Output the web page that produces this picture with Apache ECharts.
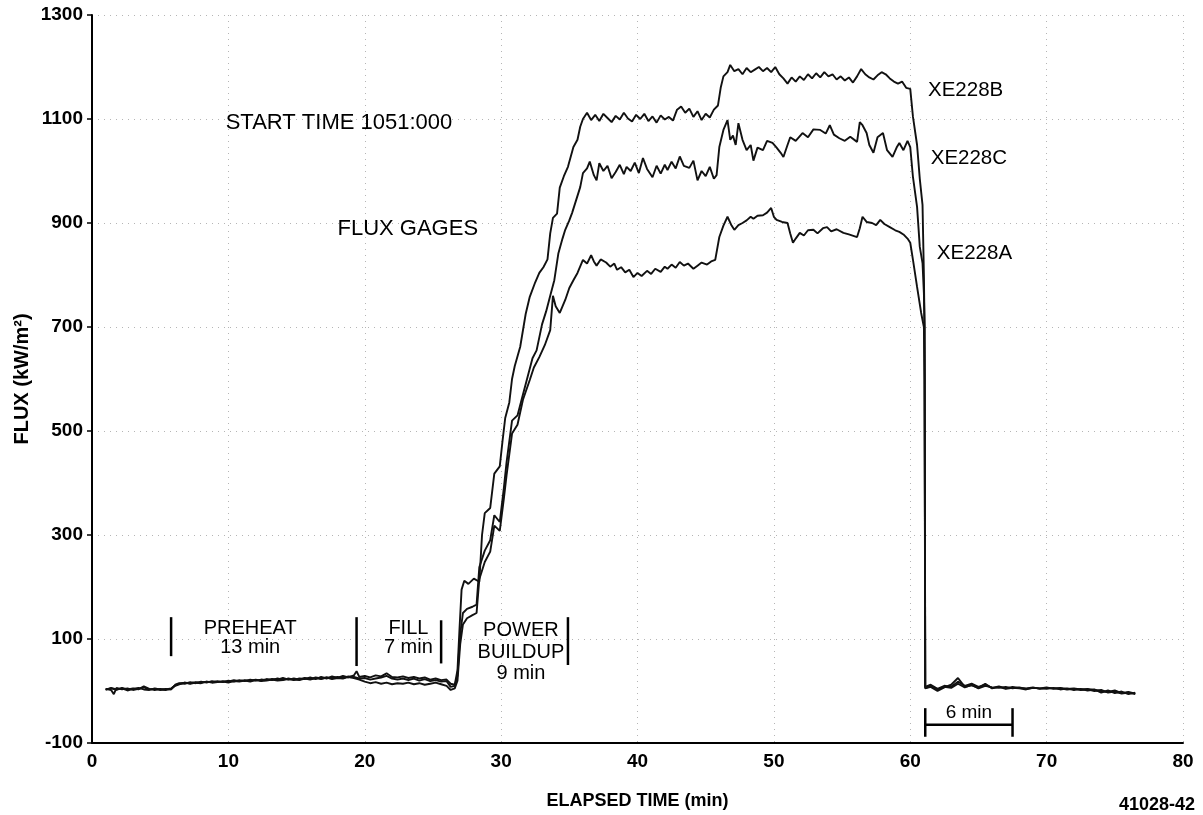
<!DOCTYPE html>
<html><head><meta charset="utf-8">
<script src="https://cdn.jsdelivr.net/npm/echarts@6/dist/echarts.min.js"></script>
<style>html,body{margin:0;padding:0;background:#fff}#c{width:1203px;height:815px}</style>
</head><body><div id="c"></div>
<script>
// ---- data (elapsed time in min, flux in kW/m2) ----
const xTickValues = [0, 10, 20, 30, 40, 50, 60, 70, 80];
const yTickValues = [-100, 100, 300, 500, 700, 900, 1100, 1300];
const seriesNames = ['XE228B', 'XE228C', 'XE228A'];

const XE228B = [
[1,4],[1.4,2],[1.6,-6],[1.8,6],[2.2,3],[2.6,5],[3,2],[3.4,4],[3.8,7],[4.2,3],[4.6,4],[5,2],[5.4,4],[5.8,3],
[6.1,12],[6.4,15],[6.8,14],[7.2,17],[7.6,15],[8,18],[8.4,16],[8.8,19],[9.2,17],[9.6,19],[10,18],[10.4,21],[10.8,19],
[11.2,21],[11.6,20],[12,22],[12.4,20],[12.8,23],[13.2,21],[13.6,24],[14,22],[14.4,23],[14.8,21],[15.2,24],[15.6,23],
[16,26],[16.4,23],[16.8,27],[17.2,24],[17.6,28],[18,25],[18.4,29],[18.8,26],[19.2,30],[19.4,38],[19.6,27],[20,29],
[20.4,26],[20.8,30],[21.2,28],[21.6,34],[22,27],[22.4,26],[22.8,28],[23.2,25],[23.6,27],[24,24],[24.4,26],[24.8,22],
[25.2,24],[25.6,21],[26,22],[26.3,14],[26.6,12],[26.8,40],[26.95,120],[27.1,195],[27.3,212],[27.6,206],[28.0,216],
[28.4,210],[28.6,300],[28.8,342],[29.2,352],[29.5,418],[29.9,432],[30.1,480],[30.3,525],[30.6,555],[30.8,600],
[31.0,625],[31.4,662],[31.8,725],[32.1,758],[32.5,786],[32.8,804],[33.1,815],[33.4,830],[33.6,880],[33.8,910],
[34.1,918],[34.3,968],[34.6,990],[34.9,1008],[35.3,1046],[35.6,1060],[35.8,1085],
[36.0,1100],[36.3,1112],[36.6,1098],[36.9,1108],[37.2,1096],[37.5,1110],[37.8,1102],[38.1,1094],[38.4,1106],
[38.7,1099],[39.0,1112],[39.3,1101],[39.6,1095],[39.9,1108],[40.2,1100],[40.5,1110],[40.8,1096],[41.1,1105],
[41.4,1093],[41.7,1107],[42.0,1099],[42.3,1104],[42.6,1097],[42.9,1118],[43.2,1124],[43.5,1112],[43.8,1120],
[44.1,1104],[44.4,1115],[44.7,1098],[45.0,1110],[45.3,1103],[45.6,1118],[45.9,1126],[46.1,1160],[46.3,1182],
[46.6,1190],[46.8,1204],[47.1,1192],[47.4,1196],[47.7,1186],[48.0,1198],[48.3,1190],[48.6,1195],[48.9,1200],
[49.2,1192],[49.5,1198],[49.8,1190],[50.1,1200],[50.4,1186],[50.7,1178],[51.0,1168],[51.3,1180],[51.6,1172],
[51.9,1182],[52.2,1175],[52.5,1186],[52.8,1178],[53.1,1188],[53.4,1180],[53.7,1190],[54.0,1182],[54.3,1186],
[54.6,1176],[54.9,1182],[55.2,1174],[55.5,1180],[55.8,1170],[56.1,1182],[56.4,1196],[56.7,1186],[57.0,1180],
[57.3,1176],[57.6,1184],[57.9,1190],[58.2,1186],[58.5,1178],[58.8,1172],[59.1,1168],[59.4,1172],[59.7,1160],
[60.0,1158],[60.2,1104],[60.5,1050],[60.7,985],[60.9,935],[61.0,800],[61.05,700],[61.1,8],
[61.2,5],[61.5,12],[62,4],[62.5,10],[63,8],[63.5,18],[64,10],[64.5,14],[65,8],[65.5,12],[66,6],[66.5,9],[67,5],
[67.5,8],[68,6],[68.5,5],[69,7],[69.5,4],[70,6],[70.5,5],[71,6],[71.5,4],[72,5],[72.5,3],[73,4],[73.5,2],[74,0],
[74.5,-2],[75,1],[75.5,-4],[76,-2],[76.5,-5]
];

const XE228C = [
[1,3],[1.4,5],[1.8,2],[2.2,6],[2.6,3],[3,5],[3.4,3],[3.8,9],[4.2,4],[4.6,2],[5,4],[5.4,3],[5.8,5],
[6.1,11],[6.4,14],[6.8,16],[7.2,15],[7.6,17],[8,16],[8.4,18],[8.8,17],[9.2,19],[9.6,17],[10,20],[10.4,18],[10.8,21],
[11.2,19],[11.6,22],[12,20],[12.4,22],[12.8,21],[13.2,23],[13.6,22],[14,25],[14.4,22],[14.8,24],[15.2,22],[15.6,25],
[16,23],[16.4,26],[16.8,24],[17.2,26],[17.6,25],[18,27],[18.4,25],[18.8,28],[19.2,27],[19.6,24],[20,25],
[20.4,22],[20.8,24],[21.2,26],[21.6,29],[22,24],[22.4,22],[22.8,24],[23.2,21],[23.6,24],[24,20],[24.4,23],[24.8,19],
[25.2,21],[25.6,18],[26,19],[26.3,8],[26.6,10],[26.8,30],[27.0,110],[27.2,150],[27.5,158],[27.9,162],[28.2,166],
[28.4,238],[28.8,270],[29.2,290],[29.5,338],[29.9,325],[30.2,390],[30.4,440],[30.8,520],[31.2,530],[31.5,560],
[31.9,600],[32.3,640],[32.6,655],[33.0,705],[33.3,730],[33.6,760],[33.9,790],[34.2,842],[34.5,870],[34.7,887],
[35.0,905],[35.2,919],[35.5,944],[35.8,969],
[36.0,996],[36.3,1005],[36.5,1018],[36.8,992],[37.0,982],[37.2,1015],[37.5,1000],[37.8,1010],[38.1,986],[38.4,998],
[38.7,1012],[39.0,994],[39.2,1008],[39.5,1000],[39.8,1016],[40.1,996],[40.4,1025],[40.7,1004],[41.1,988],[41.4,1010],
[41.7,995],[42.0,1012],[42.2,1002],[42.5,1018],[42.8,1005],[43.1,1028],[43.4,1010],[43.8,1006],[44.1,1020],[44.4,982],
[44.7,1000],[45.0,990],[45.3,1008],[45.6,985],[45.8,992],[46.0,1046],[46.3,1079],[46.6,1098],[46.8,1060],[47.0,1068],
[47.2,1050],[47.4,1092],[47.7,1060],[48.0,1040],[48.3,1050],[48.5,1020],[48.8,1045],[49.2,1040],[49.5,1058],
[49.9,1054],[50.2,1045],[50.5,1035],[50.7,1027],[51.0,1050],[51.2,1065],[51.6,1058],[52.1,1073],[52.5,1065],
[52.9,1080],[53.4,1079],[53.8,1072],[54.1,1088],[54.4,1070],[54.8,1063],[55.2,1058],[55.6,1066],[56.1,1056],
[56.3,1094],[56.5,1088],[56.8,1073],[57.0,1050],[57.3,1035],[57.6,1065],[58.0,1073],[58.3,1040],[58.7,1027],
[59.0,1045],[59.2,1054],[59.5,1040],[59.8,1058],[60.0,1046],[60.2,988],[60.5,931],[60.7,854],[60.9,823],[61.0,765],
[61.05,700],[61.1,5],
[61.2,2],[61.5,8],[62,0],[62.5,7],[63,12],[63.5,25],[64,8],[64.5,11],[65,6],[65.5,14],[66,5],[66.5,8],[67,4],
[67.5,6],[68,5],[68.5,3],[69,6],[69.5,5],[70,4],[70.5,6],[71,3],[71.5,5],[72,2],[72.5,4],[73,1],[73.5,3],[74,-3],
[74.5,1],[75,-4],[75.5,-1],[76,-6],[76.5,-3]
];

const XE228A = [
[1,2],[1.4,6],[1.8,3],[2.2,5],[2.6,1],[3,4],[3.4,6],[3.8,3],[4.2,2],[4.6,5],[5,3],[5.4,2],[5.8,4],
[6.1,10],[6.4,13],[6.8,16],[7.2,14],[7.6,16],[8,15],[8.4,18],[8.8,16],[9.2,17],[9.6,18],[10,16],[10.4,19],[10.8,18],
[11.2,20],[11.6,18],[12,21],[12.4,19],[12.8,20],[13.2,22],[13.6,20],[14,21],[14.4,24],[14.8,22],[15.2,21],[15.6,24],
[16,22],[16.4,25],[16.8,23],[17.2,26],[17.6,23],[18,25],[18.4,24],[18.8,27],[19.2,25],[19.6,22],[20,18],
[20.4,15],[20.8,17],[21.2,14],[21.6,16],[22,13],[22.4,15],[22.8,14],[23.2,16],[23.6,13],[24,15],[24.4,12],[24.8,14],
[25.2,16],[25.6,13],[26,10],[26.3,2],[26.6,5],[26.8,20],[27.0,90],[27.2,128],[27.5,140],[27.9,146],[28.2,150],
[28.4,215],[28.8,248],[29.2,268],[29.5,318],[29.9,308],[30.2,370],[30.4,415],[30.8,495],[31.2,512],[31.6,560],
[32.1,598],[32.4,622],[32.8,642],[33.2,665],[33.6,694],[33.8,760],[34.0,740],[34.3,727],[34.7,752],[35.0,775],
[35.3,790],[35.6,804],
[36.0,829],[36.3,822],[36.6,838],[36.8,826],[37.0,818],[37.3,830],[37.7,824],[38.0,816],[38.3,822],[38.5,810],
[38.8,815],[39.1,805],[39.4,810],[39.7,796],[40.0,804],[40.3,798],[40.7,808],[41.0,802],[41.3,812],[41.7,806],
[42.0,816],[42.2,812],[42.5,820],[42.8,814],[43.1,825],[43.4,818],[43.7,822],[44.1,812],[44.4,818],[44.7,824],
[45.1,820],[45.4,826],[45.7,829],[46.0,873],[46.3,895],[46.6,912],[46.9,895],[47.1,887],[47.4,896],[47.7,900],
[48.0,905],[48.3,912],[48.5,908],[48.8,914],[49.2,915],[49.5,920],[49.8,929],[50.0,912],[50.2,906],[50.6,902],
[51.0,900],[51.2,880],[51.4,862],[51.6,870],[51.9,881],[52.2,876],[52.5,886],[52.9,887],[53.2,880],[53.6,890],
[53.9,892],[54.2,884],[54.6,888],[55.1,881],[55.5,878],[56.1,873],[56.3,890],[56.5,912],[56.8,902],[57.2,900],
[57.5,896],[57.8,906],[58.1,898],[58.5,892],[58.9,886],[59.2,883],[59.5,878],[59.8,870],[60.0,862],[60.2,829],
[60.5,777],[60.8,727],[61.0,700],[61.05,600],[61.1,6],
[61.2,4],[61.5,9],[62,3],[62.5,8],[63,6],[63.5,14],[64,7],[64.5,12],[65,5],[65.5,10],[66,7],[66.5,6],[67,8],
[67.5,5],[68,7],[68.5,4],[69,6],[69.5,5],[70,7],[70.5,4],[71,5],[71.5,3],[72,4],[72.5,2],[73,3],[73.5,0],[74,2],
[74.5,-3],[75,-1],[75.5,-5],[76,-3],[76.5,-6]
];

// phase annotations (time span markers)
const phaseBars = [5.8, 19.4, 25.6, 34.9];
const phaseLabels = [
  {t: 11.6, lines: ['PREHEAT', '13 min']},
  {t: 23.2, lines: ['FILL', '7 min']},
  {t: 31.45, lines: ['POWER', 'BUILDUP', '9 min']}
];
const scaleBar = {from: 61.1, to: 67.5, text: '6 min'};

const FONT = '"Liberation Sans", Arial, Helvetica, sans-serif';
const chart = echarts.init(document.getElementById('c'), null, {renderer: 'canvas'});

const lineStyleBase = {color: '#111', width: 1.9};
const mk = (name, data) => ({
  name, type: 'line', data, showSymbol: false, symbol: 'none', animation: false,
  lineStyle: lineStyleBase, z: 3
});

chart.setOption({
  animation: false,
  backgroundColor: '#fff',
  grid: {left: 92, right: 20, top: 15, bottom: 72, containLabel: false},
  xAxis: {
    type: 'value', min: 0, max: 80, interval: 10,
    axisLine: {show: true, onZero: false, lineStyle: {color: '#000', width: 2}},
    axisTick: {show: false},
    axisLabel: {color: '#000', fontFamily: FONT, fontSize: 19, fontWeight: 'bold', margin: 9},
    splitLine: {show: true, lineStyle: {color: '#b5b5b5', type: [1, 5], width: 1}},
    name: 'ELAPSED TIME (min)', nameLocation: 'middle', nameGap: 49, nameMoveOverlap: false,
    nameTextStyle: {color: '#000', fontFamily: FONT, fontSize: 18, fontWeight: 'bold'}
  },
  yAxis: {
    type: 'value', min: -100, max: 1300, interval: 200,
    axisLine: {show: true, onZero: false, lineStyle: {color: '#000', width: 2}},
    axisTick: {show: true, length: 5, lineStyle: {color: '#000', width: 1.5}},
    axisLabel: {color: '#000', fontFamily: FONT, fontSize: 19, fontWeight: 'bold', margin: 9,
      formatter: v => String(v)},
    splitLine: {show: true, lineStyle: {color: '#b5b5b5', type: [1, 5], width: 1}},
    name: 'FLUX (kW/m²)', nameLocation: 'middle', nameGap: 60, nameRotate: 90, nameMoveOverlap: false,
    nameTextStyle: {color: '#000', fontFamily: FONT, fontSize: 20, fontWeight: 'bold'}
  },
  series: [mk(seriesNames[0], XE228B), mk(seriesNames[1], XE228C), mk(seriesNames[2], XE228A)]
});

function px(t, v) { return chart.convertToPixel({gridIndex: 0}, [t, v]); }
const g = [];
const txt = (t, v, s, size, align) => {
  const p = px(t, v);
  g.push({type: 'text', x: p[0], y: p[1], z: 10,
    style: {text: s, fill: '#000', font: size + 'px ' + FONT, align: align || 'left', verticalAlign: 'middle'}});
};
const seg = (a, b, w) => {
  g.push({type: 'line', z: 10, shape: {x1: a[0], y1: a[1], x2: b[0], y2: b[1]},
    style: {stroke: '#000', lineWidth: w || 2.5}});
};

txt(9.8, 1092, 'START TIME 1051:000', 22);
txt(18.0, 889, 'FLUX GAGES', 22);
txt(61.3, 1156, seriesNames[0], 20.5);
txt(61.5, 1025, seriesNames[1], 20.5);
txt(61.95, 842, seriesNames[2], 20.5);

// phase bars
const barSpans = [[142, 67], [142, 48], [136, 53], [142, 50]];
phaseBars.forEach((t, i) => seg(px(t, barSpans[i][0]), px(t, barSpans[i][1]), 2.5));
const lineV = [[121, 83], [121, 83], [117, 75, 33]];
phaseLabels.forEach((p, i) => p.lines.forEach((s, j) => txt(p.t, lineV[i][j], s, 20, 'center')));

// 6 min scale bar
seg(px(scaleBar.from, -65), px(scaleBar.to, -65), 2.5);
seg(px(scaleBar.from, -33), px(scaleBar.from, -88), 2.5);
seg(px(scaleBar.to, -33), px(scaleBar.to, -88), 2.5);
txt((scaleBar.from + scaleBar.to) / 2, -42, scaleBar.text, 19, 'center');

// figure id
g.push({type: 'text', right: 8, top: 796, z: 10,
  style: {text: '41028-42', fill: '#000', font: 'bold 18px ' + FONT}});

chart.setOption({graphic: g});
</script>
</body></html>
